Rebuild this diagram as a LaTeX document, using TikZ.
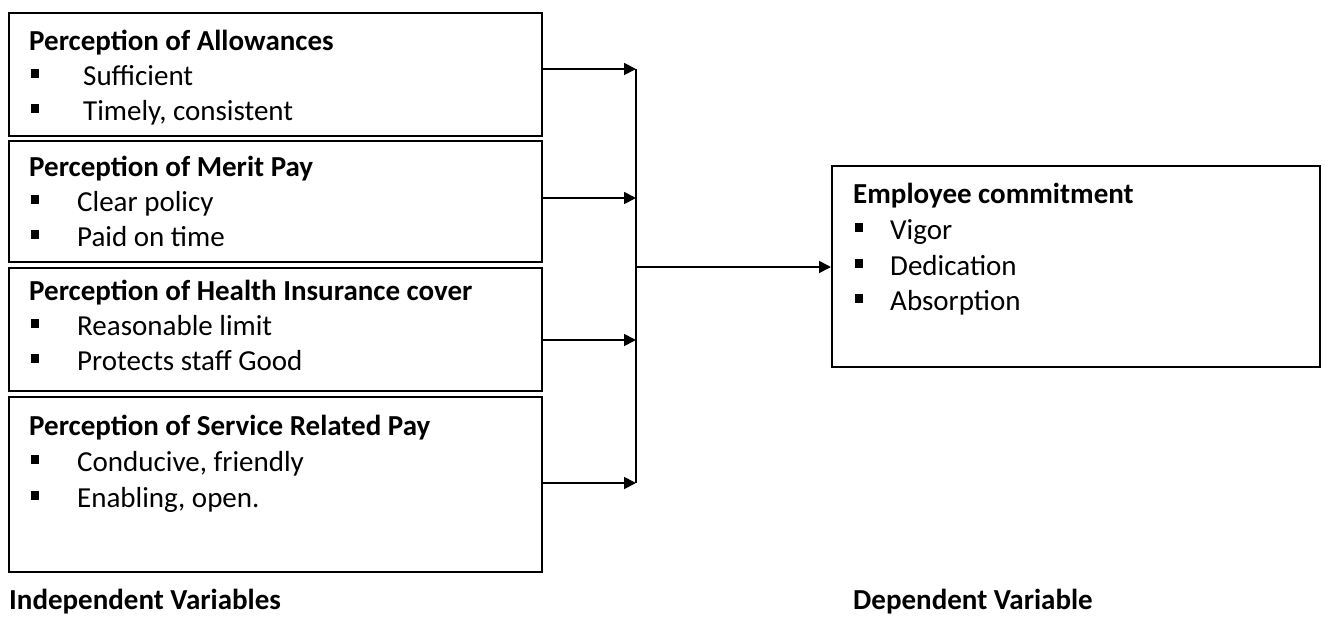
\documentclass[tikz,border=0pt]{standalone}
\usepackage{fontspec}
\setmainfont{Carlito}
\usetikzlibrary{arrows.meta}
\tikzset{
  varbox/.style={draw, line width=1.6pt, inner sep=0pt, anchor=north west},
  txt/.style={anchor=base west, inner sep=0pt, font=\fontsize{29}{35}\selectfont},
  ttl/.style={txt, font=\fontsize{29}{35}\selectfont\bfseries},
  bul/.style={anchor=base west, inner sep=0pt},
  conn/.style={line width=1.6pt},
  arr/.style={line width=1.8pt, -{Triangle[length=12pt,width=12pt]}}
}
\newcommand{\sqb}{\rule[7pt]{8pt}{9pt}}
\begin{document}
\begin{tikzpicture}[x=1pt,y=-1pt]
\useasboundingbox (0,0) rectangle (1325,616);
% left boxes
\node[varbox, minimum width=533pt, minimum height=123pt] (b1) at (8,12) {};
\node[varbox, minimum width=533pt, minimum height=121pt] (b2) at (8,140) {};
\node[varbox, minimum width=533pt, minimum height=123pt] (b3) at (8,267) {};
\node[varbox, minimum width=533pt, minimum height=175pt] (b4) at (8,396) {};
% right box
\node[varbox, minimum width=488pt, minimum height=201pt] (rb) at (831,165) {};
% box 1 text
\node[ttl] (t1) at (29,50) {Perception of Allowances};
\node[bul] (p11) at (31,85) {\sqb};
\node[txt] (i11) at (83,85) {Sufficient};
\node[bul] (p12) at (31,120) {\sqb};
\node[txt] (i12) at (83,120) {Timely, consistent};
% box 2 text
\node[ttl] (t2) at (29,176) {Perception of Merit Pay};
\node[bul] (p21) at (31,211) {\sqb};
\node[txt] (i21) at (77,211) {Clear policy};
\node[bul] (p22) at (31,246) {\sqb};
\node[txt] (i22) at (77,246) {Paid on time};
% box 3 text
\node[ttl] (t3) at (29,300) {Perception of Health Insurance cover};
\node[bul] (p31) at (31,335) {\sqb};
\node[txt] (i31) at (77,335) {Reasonable limit};
\node[bul] (p32) at (31,370) {\sqb};
\node[txt] (i32) at (77,370) {Protects staff Good};
% box 4 text
\node[ttl] (t4) at (29,435) {Perception of Service Related Pay};
\node[bul] (p41) at (31,471) {\sqb};
\node[txt] (i41) at (77,471) {Conducive, friendly};
\node[bul] (p42) at (31,507) {\sqb};
\node[txt] (i42) at (77,507) {Enabling, open.};
% right box text
\node[ttl] (tr) at (853,203) {Employee commitment};
\node[bul] (pr1) at (855,239) {\sqb};
\node[txt] (ir1) at (890,239) {Vigor};
\node[bul] (pr2) at (855,275) {\sqb};
\node[txt] (ir2) at (890,275) {Dedication};
\node[bul] (pr3) at (855,310) {\sqb};
\node[txt] (ir3) at (890,310) {Absorption};
% bottom labels
\node[ttl] (li) at (9,609) {Independent Variables};
\node[ttl] (ld) at (853,609) {Dependent Variable};
% connectors
\coordinate (j1) at (636,69);
\coordinate (j2) at (636,198);
\coordinate (j3) at (636,340);
\coordinate (j4) at (636,483);
\coordinate (jm) at (636,267);
\draw[arr] (b1.east |- j1) -- (j1);
\draw[arr] (b2.east |- j2) -- (j2);
\draw[arr] (b3.east |- j3) -- (j3);
\draw[arr] (b4.east |- j4) -- (j4);
\draw[conn] (j1) -- (j4);
\draw[arr] (jm) -- (rb.west |- jm);
\end{tikzpicture}
\end{document}
